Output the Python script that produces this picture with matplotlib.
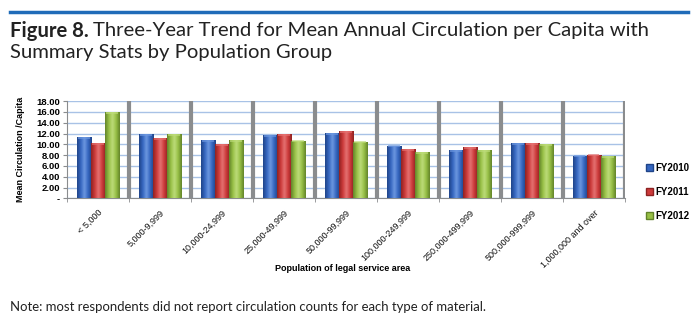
import numpy as np
import matplotlib.pyplot as plt
from matplotlib.lines import Line2D
from matplotlib.patches import Patch
from matplotlib.colors import LinearSegmentedColormap

groups = ['< 5,000', '5,000-9,999', '10,000-24,999', '25,000-49,999', '50,000-99,999',
          '100,000-249,999', '250,000-499,999', '500,000-999,999', '1,000,000 and over']
fy2010 = [11.4, 11.9, 10.8, 11.7, 12.15, 9.75, 9.0, 10.25, 7.9]
fy2011 = [10.2, 11.2, 10.05, 11.9, 12.5, 9.1, 9.5, 10.25, 8.1]
fy2012 = [16.0, 11.9, 10.8, 10.7, 10.5, 8.5, 8.95, 10.0, 7.8]
series_names = ['FY2010', 'FY2011', 'FY2012']
yticks = [0, 2, 4, 6, 8, 10, 12, 14, 16, 18]

colors = ['#3566c0', '#cc3a3a', '#97bf45']
lights = ['#6d98e0', '#e57272', '#bddc7a']
edges = ['#1f4488', '#8e2222', '#62832a']

chart_font = ['Liberation Sans', 'DejaVu Sans']
title_font = ['Lato', 'DejaVu Sans']

fig = plt.figure(figsize=(7, 3.23), dpi=100)
ax = fig.add_axes([0.0957, 0.386, 0.797, 0.301])

x = np.arange(len(groups))
w = 0.226
grad = np.linspace(0, 1, 64).reshape(1, -1)
for i, vals in enumerate([fy2010, fy2011, fy2012]):
    bars = ax.bar(x + (i - 1) * w, vals, w, color=colors[i], edgecolor=edges[i],
                  linewidth=0.6, zorder=3)
    # shaded fill: darker at the sides, lighter through the middle
    cmap = LinearSegmentedColormap.from_list(
        f's{i}', [edges[i], colors[i], lights[i], colors[i], edges[i]])
    for r in bars:
        x0, h = r.get_x(), r.get_height()
        im = ax.imshow(grad, cmap=cmap, extent=[x0, x0 + w, 0, h], aspect='auto',
                       zorder=3.5, interpolation='bicubic')
        im.set_clip_path(r)
        ax.plot([x0 + w * 0.1, x0 + w * 0.9], [h - 0.15, h - 0.15], color=lights[i],
                linewidth=1.2, alpha=0.8, zorder=4, solid_capstyle='butt')

ax.set_xlim(-0.5, len(groups) - 0.5)
ax.set_ylim(0, 18)
ax.set_yticks(yticks)
ax.set_yticklabels(['-' if v == 0 else f'{v:.2f}' for v in yticks],
                   fontsize=6.8, fontweight='bold', family=chart_font)
ax.yaxis.grid(True, color='#a8c2e6', linewidth=1.0, zorder=0)
for b in np.arange(0.5, len(groups) - 0.5 + 1, 1.0):
    ax.axvline(b, color='#8a8c8e', linewidth=3, zorder=2)

ax.set_xticks(x)
ax.set_xticklabels(groups, rotation=45, ha='right', rotation_mode='anchor',
                   fontsize=6.5, family=chart_font, color='#111111')
ax.tick_params(axis='x', length=0, pad=7)
ax.set_xticks(np.arange(-0.5, len(groups)), minor=True)
ax.tick_params(axis='x', which='minor', length=3, color='#8a8c8e')
ax.tick_params(axis='y', length=3, color='#8a8c8e', pad=2)

for s in ['top', 'right']:
    ax.spines[s].set_visible(False)
ax.spines['left'].set_color('#8a8c8e')
ax.spines['bottom'].set_color('#8a8c8e')

ax.set_ylabel('Mean Circulation /Capita', fontsize=6.5, fontweight='bold',
              family=chart_font, labelpad=8)
fig.text(0.49, 0.17, 'Population of legal service area', ha='center', va='center',
         fontsize=6.5, fontweight='bold', family=chart_font)

handles = [Patch(facecolor=colors[i], edgecolor=edges[i]) for i in range(3)]
fig.legend(handles, series_names, loc='center left', bbox_to_anchor=(0.91, 0.405),
           frameon=False, handlelength=0.75, handleheight=0.75,
           handletextpad=0.25, labelspacing=1.45,
           prop={'family': chart_font, 'size': 7, 'weight': 'bold'})

# header rule and title
fig.add_artist(Line2D([0.014, 0.983], [0.962, 0.962], color='#1f6bb8', linewidth=2.5))
t1 = fig.text(0.014, 0.905, 'Figure 8.', fontsize=14.6, fontweight='bold', family=title_font,
              va='center', color='#222222')
fig.canvas.draw()
bb = t1.get_window_extent().transformed(fig.transFigure.inverted())
fig.text(bb.x1 + 0.006, 0.905, 'Three-Year Trend for Mean Annual Circulation per Capita with',
         fontsize=14.6, family=title_font, va='center', color='#222222')
fig.text(0.014, 0.838, 'Summary Stats by Population Group', fontsize=14.6,
         family=title_font, va='center', color='#222222')
fig.text(0.014, 0.05, 'Note: most respondents did not report circulation counts for each type of material.',
         fontsize=9.45, family=title_font, va='center', color='#222222')

fig.savefig('out.png', dpi=100)
